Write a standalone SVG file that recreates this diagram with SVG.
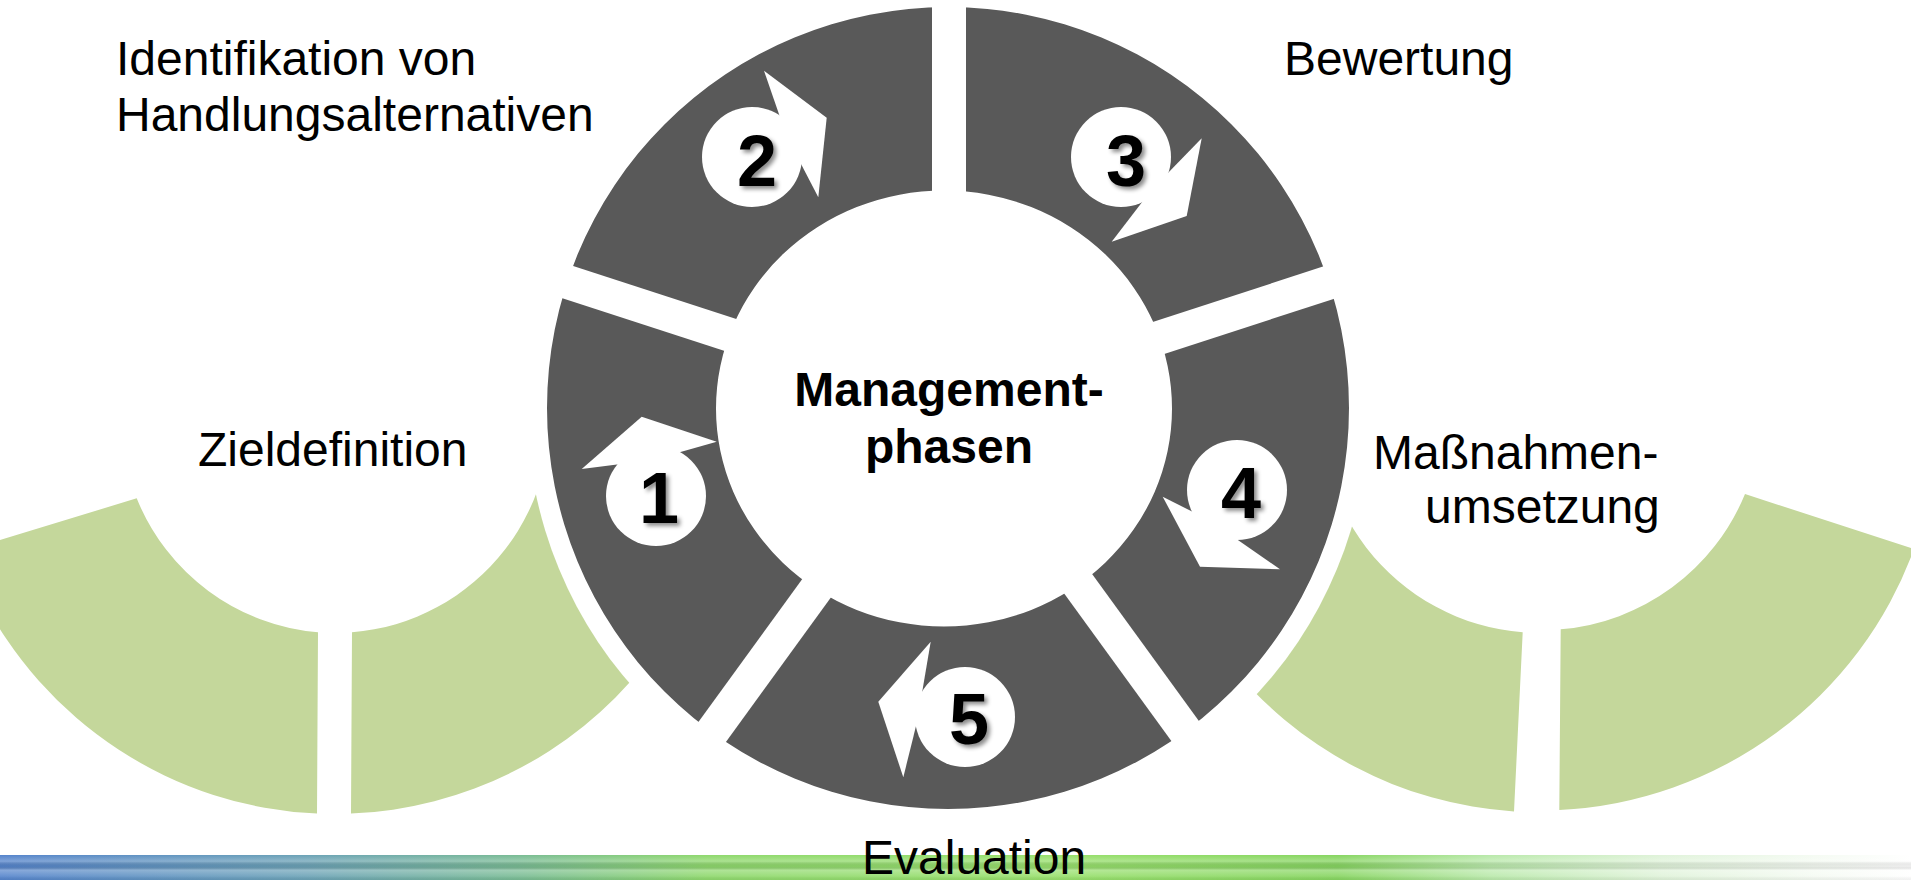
<svg xmlns="http://www.w3.org/2000/svg" width="1911" height="880" viewBox="0 0 1911 880">
  <style>
    .seg { fill: #595959; }
    .leaf { fill: #c4d79b; }
    .badge { fill: #ffffff; }
    .arrow { fill: #ffffff; }
    .num { font-family: "Liberation Sans", Arial, sans-serif; font-weight: bold; font-size: 72px; fill: #000000; text-anchor: middle; }
    .label { font-family: "Liberation Sans", Arial, sans-serif; font-size: 48px; fill: #000000; }
    .title { font-family: "Liberation Sans", Arial, sans-serif; font-weight: bold; font-size: 48px; fill: #000000; text-anchor: middle; }
  </style>
  <defs>
    <!-- ring band: outer circle minus the slightly oval hub -->
    <clipPath id="ring" clipPathUnits="userSpaceOnUse">
      <path clip-rule="evenodd" d="M 547 408 A 401 401 0 1 0 1349 408 A 401 401 0 1 0 547 408 Z M 716 408.5 A 228 218 0 1 0 1172 408.5 A 228 218 0 1 0 716 408.5 Z"/>
    </clipPath>
    <!-- white margin kept clear around the ring -->
    <mask id="clearance" maskUnits="userSpaceOnUse" x="-100" y="0" width="2111" height="880">
      <rect x="-100" y="0" width="2111" height="880" fill="#ffffff"/>
      <circle cx="948" cy="408" r="421" fill="#000000"/>
    </mask>
    <filter id="digitShadow" x="-30%" y="-30%" width="160%" height="160%">
      <feDropShadow dx="3" dy="3" stdDeviation="2" flood-color="#000000" flood-opacity="0.45"/>
    </filter>
    <linearGradient id="barColor" x1="0" y1="0" x2="1911" y2="0" gradientUnits="userSpaceOnUse">
      <stop offset="0" stop-color="#5584cc"/>
      <stop offset="0.16" stop-color="#6ba2b6"/>
      <stop offset="0.27" stop-color="#78bb94"/>
      <stop offset="0.37" stop-color="#8ed86c"/>
      <stop offset="0.55" stop-color="#98e06c"/>
      <stop offset="0.70" stop-color="#86d560"/>
      <stop offset="0.78" stop-color="#b9e9aa"/>
      <stop offset="0.87" stop-color="#e0f3da"/>
      <stop offset="0.95" stop-color="#f5fbf3"/>
      <stop offset="1" stop-color="#ffffff"/>
    </linearGradient>
    <linearGradient id="barSheen" x1="0" y1="855" x2="0" y2="880" gradientUnits="userSpaceOnUse">
      <stop offset="0" stop-color="#ffffff" stop-opacity="0"/>
      <stop offset="0.25" stop-color="#ffffff" stop-opacity="0.25"/>
      <stop offset="0.45" stop-color="#000000" stop-opacity="0.06"/>
      <stop offset="0.6" stop-color="#ffffff" stop-opacity="0.3"/>
      <stop offset="0.85" stop-color="#ffffff" stop-opacity="0.1"/>
      <stop offset="1" stop-color="#000000" stop-opacity="0.05"/>
    </linearGradient>
  </defs>

  <rect width="1911" height="880" fill="#ffffff"/>

  <!-- bottom colour band -->
  <g id="footer-band">
    <rect x="0" y="855" width="1911" height="25" fill="url(#barColor)"/>
    <rect x="0" y="855" width="1911" height="25" fill="url(#barSheen)"/>
  </g>

  <!-- green half-rings either side -->
  <g id="left-arc" mask="url(#clearance)">
    <path class="leaf" d="M 136.7 498.3 A 215 215 0 0 0 318 632.3 L 317 813.6 A 396 396 0 0 1 -20 593.5 L -20 546.1 Z"/>
    <path class="leaf" d="M 352 632.3 L 351 813.6 A 396 396 0 0 0 725 349.2 L 546.7 380.7 A 215 215 0 0 1 352 632.3 Z"/>
  </g>
  <g id="right-arc" mask="url(#clearance)">
    <path class="leaf" d="M 1522.7 632.3 L 1514 811.5 A 398 398 0 0 1 1148 343.9 L 1324.3 374.9 A 219 219 0 0 0 1522.7 632.3 Z"/>
    <path class="leaf" d="M 1560.7 629.3 L 1559.3 810 A 398 398 0 0 0 1914 549 L 1745 494 A 219 219 0 0 1 1560.7 629.3 Z"/>
  </g>

  <!-- five phase segments, one wedge rotated about the ring centre -->
  <g id="phase-1">
    <g clip-path="url(#ring)"><polygon class="seg" points="966,382.6 966,-114 1360.5,-160.3 1438.3,229.1" transform="rotate(216 949 406)"/></g>
    <circle class="badge" cx="656" cy="496" r="50"/>
    <text class="num" x="659" y="523" filter="url(#digitShadow)">1</text>
  </g>
  <g id="phase-2">
    <g clip-path="url(#ring)"><polygon class="seg" points="966,382.6 966,-114 1360.5,-160.3 1438.3,229.1" transform="rotate(288 949 406)"/></g>
    <circle class="badge" cx="752" cy="157" r="50"/>
    <text class="num" x="757" y="186" filter="url(#digitShadow)">2</text>
  </g>
  <g id="phase-3">
    <g clip-path="url(#ring)"><polygon class="seg" points="966,382.6 966,-114 1360.5,-160.3 1438.3,229.1"/></g>
    <circle class="badge" cx="1121" cy="157" r="50"/>
    <text class="num" x="1126" y="186" filter="url(#digitShadow)">3</text>
  </g>
  <g id="phase-4">
    <g clip-path="url(#ring)"><polygon class="seg" points="966,382.6 966,-114 1360.5,-160.3 1438.3,229.1" transform="rotate(72 949 406)"/></g>
    <circle class="badge" cx="1237" cy="490" r="50"/>
    <text class="num" x="1241" y="518" filter="url(#digitShadow)">4</text>
  </g>
  <g id="phase-5">
    <g clip-path="url(#ring)"><polygon class="seg" points="966,382.6 966,-114 1360.5,-160.3 1438.3,229.1" transform="rotate(144 949 406)"/></g>
    <circle class="badge" cx="965" cy="717" r="50"/>
    <text class="num" x="969" y="744" filter="url(#digitShadow)">5</text>
  </g>

  <!-- clockwise arrowheads leaving each badge -->
  <g id="connectors">
    <polygon class="arrow" points="621,464 581.7,469 641.7,416.7 716.7,441.7 677,453"/>
    <polygon class="arrow" points="781,120 764,70.7 826.7,117.7 818.3,197.3 800,162"/>
    <polygon class="arrow" points="1166,175 1201.7,138.3 1186.7,216 1111.7,241.7 1146,197"/>
    <polygon class="arrow" points="1195,513 1162.7,496.7 1200,566.7 1280,569.3 1235,538"/>
    <polygon class="arrow" points="922,693 930.7,641.7 878.3,701.7 903.3,777.3 917,722"/>
  </g>

  <!-- hub caption -->
  <g id="hub">
    <text class="title" x="949" y="406">Management-</text>
    <text class="title" x="949" y="463">phasen</text>
  </g>

  <!-- phase captions -->
  <g id="captions">
    <text class="label" x="198" y="466">Zieldefinition</text>
    <text class="label" x="116" y="75">Identifikation von</text>
    <text class="label" x="116" y="131">Handlungsalternativen</text>
    <text class="label" x="1284" y="75">Bewertung</text>
    <text class="label" x="1373" y="469">Maßnahmen-</text>
    <text class="label" x="1425" y="523">umsetzung</text>
    <text class="label" x="862" y="874">Evaluation</text>
  </g>
</svg>
